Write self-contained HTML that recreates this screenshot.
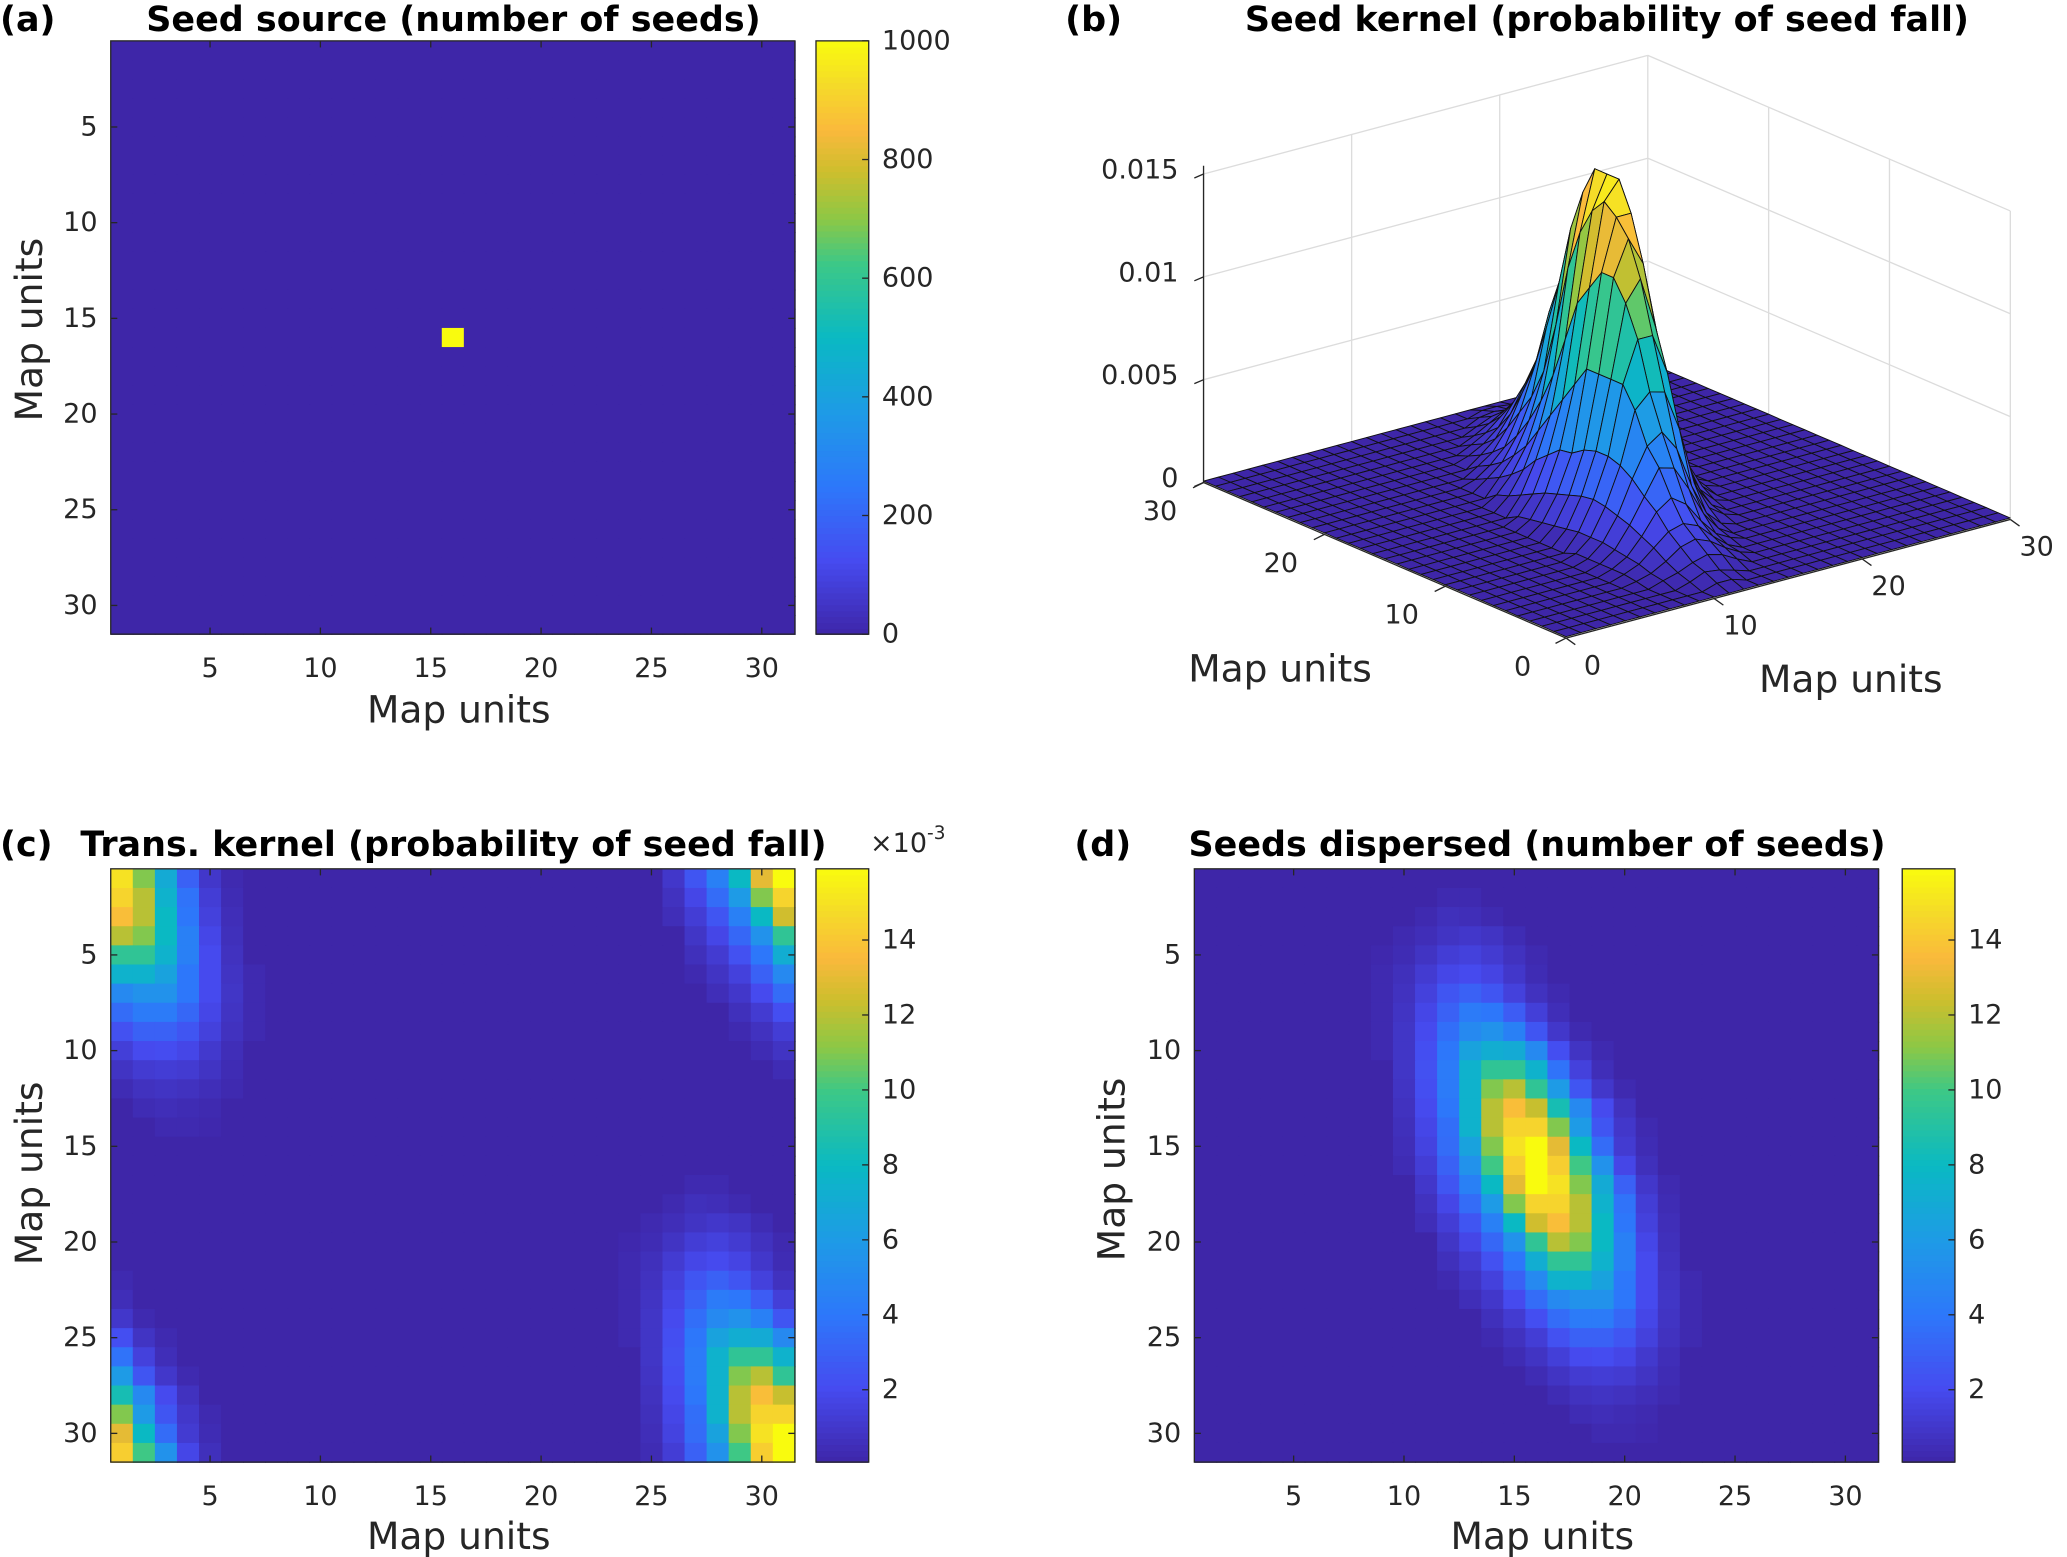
<!DOCTYPE html>
<html><head><meta charset="utf-8"><style>
html,body{margin:0;padding:0;background:#fff;}
svg{display:block;}
text{font-family:"DejaVu Sans","Liberation Sans",sans-serif;fill:#262626;}
.t{font-weight:bold;fill:#000;font-size:26.5px;}
.tk{font-size:20.5px;}
.lb{font-size:28.5px;}
</style></head><body>
<svg id="fig" width="2067" height="1557" viewBox="0 0 1568 1181" preserveAspectRatio="none" xmlns="http://www.w3.org/2000/svg"></svg>
<script>
// ---- data ----
const seedRows=[16];
const seedCols=[16];
const seedCounts=[1000];
// kernel (seeds dispersed per 1000 seeds): [row, startCol, values...]
const kernelRowsIdx=[2,3,4,5,6,7,8,9,10,11,12,13,14,15,16,17,18,19,20,21,22,23,24,25,26,27,28,29,30];
const kernelRowsStart=[12,11,10,9,9,9,9,9,9,10,10,10,10,10,10,11,11,11,12,12,12,13,14,14,15,16,17,18,19];
const kernelRowsVals=[
[.3,.3],
[.3,.6,.5,.3],
[.3,.5,.8,1.0,.8,.4],
[.2,.4,.8,1.3,1.5,1.2,.7,.3],
[.3,.6,1.2,1.8,2.0,1.7,1.0,.4],
[.3,.7,1.5,2.5,3.0,2.5,1.5,.7,.3],
[.3,.8,1.8,3.0,4.2,4.0,2.8,1.4,.5],
[.3,.9,2.0,3.6,5.0,5.5,4.5,2.5,1.0,.3],
[.3,.9,2.2,4.0,6.5,7.2,7.0,5.0,2.2,.8,.3],
[.9,2.3,4.2,7.5,9.5,9.5,7.5,3.8,1.5,.5],
[.8,2.2,4.2,7.5,11,12,9.5,6,2.5,1,.3],
[.7,2,4,7.5,12,13.7,12.3,8.5,5,2,.7],
[.6,1.8,3.6,7.5,12,14.5,14.5,11,6,2.5,1,.3],
[.5,1.6,3.5,6.5,11,15,15.9,13,8,3.5,1.2,.4],
[.4,1.3,3,5.5,10,14.3,15.9,14.3,10,5.5,1.8,.6],
[1,2.5,4.5,8,13,15.9,15,11,7,3,1,.3],
[.7,1.8,3.5,6,11,14.5,14.5,12,7.5,3.8,1.3,.4],
[.5,1.3,2.5,4.5,8,12.5,13.7,12,8,4,1.5,.5],
[.9,1.8,3.3,5.5,9.5,12,11,8,4.5,1.8,.6],
[.6,1.2,2.3,4,7.2,9.5,9.5,7.5,4.5,2,.7],
[.3,.8,1.5,3,5,7.5,7.5,6.5,4,2,.8,.3],
[.5,1,2,3.5,5,5.5,5.5,4,2,.9,.3],
[.6,1.2,2.2,3.5,4.2,4.2,3.3,1.8,.8,.3],
[.3,.7,1.3,2.3,3,3,2.5,1.5,.7,.3],
[.4,.8,1.4,2,2.1,1.8,1.1,.5],
[.4,.8,1.2,1.3,1.2,.8,.4],
[.4,.7,.8,.7,.5,.3],
[.4,.5,.4,.3],
[.3,.3,.2]];
const kernelBackground=0.07;
const gridTicks=[5,10,15,20,25,30];
const cbTicksA=[0,200,400,600,800,1000];
const cbTicksCD=[2,4,6,8,10,12,14];
const zTicks=[0,0.005,0.01,0.015];
const zTickLabels=["0","0.005","0.01","0.015"];
const floorTicks=[0,10,20,30];

// ---- helpers ----
const NS="http://www.w3.org/2000/svg";
const svg=document.getElementById('fig');
function mk(tag,attrs,parent){const e=document.createElementNS(NS,tag);for(const k in attrs)e.setAttribute(k,attrs[k]);(parent||svg).appendChild(e);return e;}
function txt(s,x,y,cls,anchor,parent,extra){const e=mk('text',Object.assign({x:x,y:y,class:cls,'text-anchor':anchor||'start','dominant-baseline':'central'},extra||{}),parent);e.textContent=s;return e;}
const P=[[0,[62,38,168]],[0.125,[70,75,240]],[0.25,[45,120,250]],[0.375,[30,155,230]],[0.5,[10,185,195]],[0.625,[60,200,135]],[0.7,[140,200,70]],[0.78,[205,190,45]],[0.85,[250,185,60]],[0.93,[245,220,40]],[1,[249,251,14]]];
function parula(t){t=Math.max(0,Math.min(1,t));for(let i=1;i<P.length;i++){if(t<=P[i][0]){const a=P[i-1],b=P[i],f=(t-a[0])/(b[0]-a[0]);const c=a[1].map((v,k)=>Math.round(v+(b[1][k]-v)*f));return `rgb(${c[0]},${c[1]},${c[2]})`;}}return 'rgb(249,251,14)';}

// build matrices
const N=31;
const kernel=[];for(let r=0;r<N;r++){kernel.push(new Array(N).fill(kernelBackground));}
kernelRowsIdx.forEach((r,i)=>{kernelRowsVals[i].forEach((v,k)=>{kernel[r-1][kernelRowsStart[i]-1+k]=v;});});
let kmax=0,kmin=1e9;kernel.forEach(row=>row.forEach(v=>{kmax=Math.max(kmax,v);kmin=Math.min(kmin,v);}));
const source=[];for(let r=0;r<N;r++)source.push(new Array(N).fill(0));
seedRows.forEach((r,i)=>{source[r-1][seedCols[i]-1]=seedCounts[i];});
const trans=[];for(let r=0;r<N;r++){trans.push(new Array(N));}
for(let r=0;r<N;r++)for(let c=0;c<N;c++){const r2=(r+15)%N,c2=(c+15)%N;trans[r2][c2]=kernel[r][c];}

function heatPanel(name,M,x0,y0,w,h,cmin,cmax,cbx,cbTicks,cbFmt){
  const g=mk('g',{},svg);
  
  
  const cw=w/N,ch=h/N;
  const xs=c=>x0+(c-0.5)*cw, ys=r=>y0+(r-0.5)*ch;
  for(let r=0;r<N;r++)for(let c=0;c<N;c++){
    const cell=mk('rect',{x:xs(c+0.5),y:ys(r+0.5),width:cw+0.6,height:ch+0.6,fill:parula((M[r][c]-cmin)/(cmax-cmin))},g);
    
    
  }
  mk('rect',{x:x0,y:y0,width:w,height:h,fill:'none',stroke:'#262626','stroke-width':1},g);
  gridTicks.forEach(t=>{
    const X=xs(t),Y=ys(t);
    mk('line',{x1:X,y1:y0+h,x2:X,y2:y0+h-5,stroke:'#262626'},g);
    mk('line',{x1:X,y1:y0,x2:X,y2:y0+5,stroke:'#262626'},g);
    mk('line',{x1:x0,y1:Y,x2:x0+5,y2:Y,stroke:'#262626'},g);
    mk('line',{x1:x0+w,y1:Y,x2:x0+w-5,y2:Y,stroke:'#262626'},g);
    const xl=txt(String(t),X,y0+h+26,'tk','middle',g);
    
    
    const yl=txt(String(t),x0-10,Y,'tk','end',g);
    
    
  });
  const cb=mk('g',{},g);
  
  
  const steps=100;
  for(let i=0;i<steps;i++){mk('rect',{x:cbx,y:y0+h-(i+1)*h/steps,width:40,height:h/steps+0.6,fill:parula((i+0.5)/steps)},cb);}
  mk('rect',{x:cbx,y:y0,width:40,height:h,fill:'none',stroke:'#262626'},cb);
  cbTicks.forEach(t=>{
    const Y=y0+h-(t-cmin)/(cmax-cmin)*h;
    mk('line',{x1:cbx+40,y1:Y,x2:cbx+35,y2:Y,stroke:'#262626'},cb);
    const l=txt(cbFmt(t),cbx+50,Y,'tk','start',cb);
    
    
  });
  return g;
}

heatPanel('seed-source-heatmap',source,84,31,519,450,0,1000,619,cbTicksA,t=>String(t));
heatPanel('transition-kernel-heatmap',trans,84,659,519,450,kmin,kmax,619,cbTicksCD,t=>String(t));
heatPanel('seeds-dispersed-heatmap',kernel,906,659,519,450,kmin,kmax,1443,cbTicksCD,t=>String(t));

function label(s,x,y,cls,anchor,name,rot){const e=txt(s,x,y,cls,anchor,svg,rot?{transform:`rotate(-90 ${x} ${y})`}:null);return e;}
label('(a)',0,15,'t','start','panel-a-letter');
label('Seed source (number of seeds)',344,15,'t','middle','panel-a-title');
label('Map units',348,538,'lb','middle','panel-a-x-axis-title');
label('Map units',22,250,'lb','middle','panel-a-y-axis-title',true);
label('(b)',808,15,'t','start','panel-b-letter');
label('Seed kernel (probability of seed fall)',1219,15,'t','middle','panel-b-title');
label('(c)',0,641,'t','start','panel-c-letter');
label('Trans. kernel (probability of seed fall)',344,641,'t','middle','panel-c-title');
label('Map units',348,1165,'lb','middle','panel-c-x-axis-title');
label('Map units',22,890,'lb','middle','panel-c-y-axis-title',true);
label('(d)',815,641,'t','start','panel-d-letter');
label('Seeds dispersed (number of seeds)',1166,641,'t','middle','panel-d-title');
label('Map units',1170,1165,'lb','middle','panel-d-x-axis-title');
label('Map units',843,887,'lb','middle','panel-d-y-axis-title',true);
{const e=mk('text',{x:660,y:640,class:'tk','font-size':'17','dominant-baseline':'central'});e.innerHTML='×10<tspan dy="-8" font-size="14">-3</tspan>';}

// Panel b: 3D surface
const g3=mk('g',{});


const F=[1188,484],R=[1525,394],L=[913,366],ZS=15.6/0.001;
function proj(u,v,z){return [F[0]+u/30*(R[0]-F[0])+v/30*(L[0]-F[0]),F[1]+u/30*(R[1]-F[1])+v/30*(L[1]-F[1])-z*ZS];}
const zTop=0.015;
const grid='#dcdcdc';
function line3(a,b,col,w){const p=proj(...a),q=proj(...b);return mk('line',{x1:p[0],y1:p[1],x2:q[0],y2:q[1],stroke:col,'stroke-width':w||1},g3);}
[0,10,20,30].forEach(u=>line3([u,30,0],[u,30,zTop],grid));
[0,10,20].forEach(v=>line3([30,v,0],[30,v,zTop],grid));
zTicks.forEach(z=>{line3([0,30,z],[30,30,z],grid);line3([30,30,z],[30,0,z],grid);});
[10,20].forEach(t=>{line3([t,0,0],[t,30,0],grid);line3([0,t,0],[30,t,0],grid);});
const quads=[];
for(let i=0;i<N-1;i++)for(let j=0;j<N-1;j++)quads.push([i,j]);
quads.sort((a,b)=>(b[0]+b[1])-(a[0]+a[1]));
quads.forEach(([i,j])=>{
  const z=(r,c)=>kernel[r][c]/1000;
  const pts=[[j,i,z(i,j)],[j+1,i,z(i,j+1)],[j+1,i+1,z(i+1,j+1)],[j,i+1,z(i+1,j)]].map(p=>proj(...p).map(v=>v.toFixed(1)).join(',')).join(' ');
  const m=(kernel[i][j]+kernel[i][j+1]+kernel[i+1][j]+kernel[i+1][j+1])/4;
  const q=mk('polygon',{points:pts,fill:parula((m-kmin)/(kmax-kmin)),stroke:'#111','stroke-width':0.7,'stroke-linejoin':'round'},g3);
  
  
});
line3([0,30,0],[0,30,zTop+0.0004],'#262626');
line3([0,0,0],[0,30,0],'#262626');
line3([0,0,0],[30,0,0],'#262626');
zTicks.forEach((z,k)=>{const p=proj(0,30,z);mk('line',{x1:p[0]-7,y1:p[1]+3,x2:p[0],y2:p[1],stroke:'#262626'},g3);
  const l=txt(zTickLabels[k],p[0]-19,p[1]-3,'tk','end',g3);
  
  });
floorTicks.forEach(t=>{
  let p=proj(0,t,0);mk('line',{x1:p[0],y1:p[1],x2:p[0]-8,y2:p[1]+4,stroke:'#262626'},g3);
  let l=txt(String(t),p[0]-33,p[1]+22,'tk','middle',g3);
  
  
  p=proj(t,0,0);mk('line',{x1:p[0],y1:p[1],x2:p[0]+7,y2:p[1]+5,stroke:'#262626'},g3);
  l=txt(String(t),p[0]+20,p[1]+21,'tk','middle',g3);
  
  
});
label('Map units',971,507,'lb','middle','panel-b-y-axis-title');
label('Map units',1404,515,'lb','middle','panel-b-x-axis-title');
</script>
</body></html>
